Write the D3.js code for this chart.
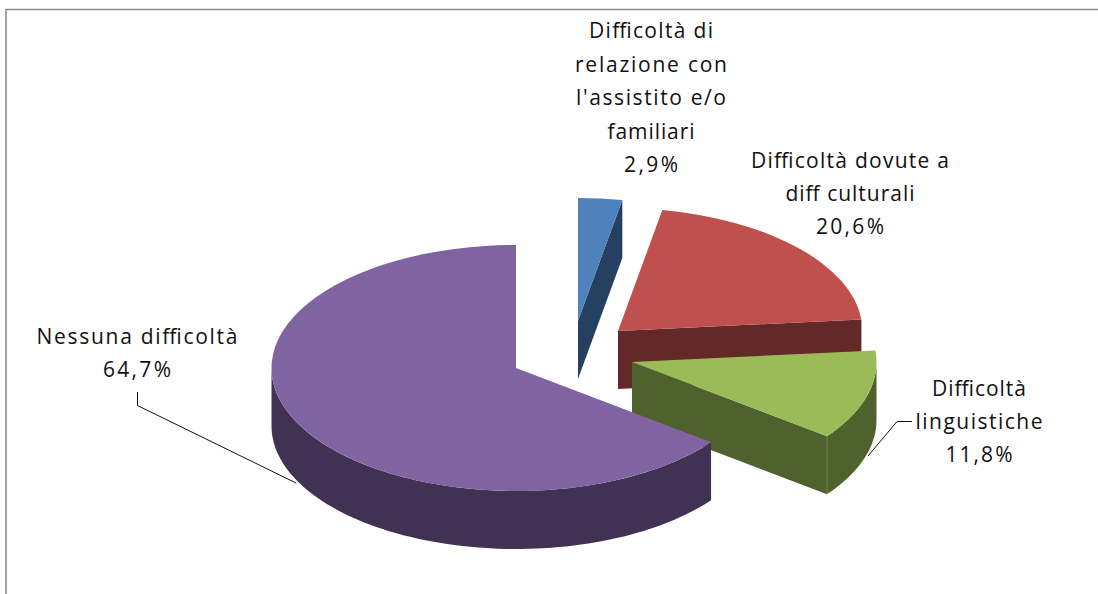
<!DOCTYPE html>
<html>
<head>
<meta charset="utf-8">
<script src="https://cdn.jsdelivr.net/npm/d3@7"></script>
<style>
  html, body { margin: 0; padding: 0; background: #fff; }
  svg { display: block; }
  .label { font-family: "Open Sans", Lato, sans-serif; font-size: 21px; fill: #111; text-anchor: middle; }
</style>
</head>
<body>
<div id="chart"></div>
<script>
// data
const categories = ["Difficoltà di relazione con l'assistito e/o familiari", "Difficoltà dovute a diff culturali", "Difficoltà linguistiche", "Nessuna difficoltà"];
const values = [2.9, 20.6, 11.8, 64.7];
const labelLines = [
  ["Difficoltà di", "relazione con", "l'assistito e/o", "familiari"],
  ["Difficoltà dovute a", "diff culturali"],
  ["Difficoltà", "linguistiche"],
  ["Nessuna difficoltà"]
];

const topColors = ["#4f81bd", "#c0504d", "#9bbb59", "#8064a2"];
const wallColors = ["#254061", "#632928", "#4f612d", "#413253"];

// layout of the pie
const width = 1098, height = 594;
const cx = 516, cy = 368;
const rx = 244.5, ry = 123, depth = 58;
const explode = [[62, -47], [102, -37], [116, -6], [0, 0]];

// layout of the labels: centre of each block, first baseline, line step, width of each line
const labelPos = [
  {x: 651, y: 38, step: 33.6, widths: [124, 152, 150, 87, 54]},
  {x: 850, y: 168, step: 33, widths: [198, 129, 68]},
  {x: 979, y: 396, step: 33, widths: [94, 127, 67]},
  {x: 137, y: 344, step: 33, widths: [201, 68]}
];
const leaders = [
  null,
  null,
  [[912, 421.5], [897, 421.5], [868, 456]],
  [[137.5, 392], [137.5, 405.5], [296, 483]]
];

const svg = d3.select("#chart")
  .append("svg")
    .attr("width", width)
    .attr("height", height);

// chart frame, only top and left are in the picture
svg.append("path")
  .attr("d", d3.line()([[6, height], [6, 9.5], [width, 9.5]]))
  .attr("fill", "none")
  .attr("stroke", "#868686")
  .attr("stroke-width", 1.5);

const pie = d3.pie().sort(null)(values);

const arc = d3.arc().innerRadius(0).outerRadius(rx);
const px = a => rx * Math.sin(a);
const py = a => -ry * Math.cos(a);

// outer wall of a slice, only the front half of the ellipse shows
const wall = d3.area()
  .x(a => px(a))
  .y0(a => py(a))
  .y1(a => py(a) + depth);

function wallAngles(d) {
  const a0 = Math.max(d.startAngle, Math.PI / 2);
  const a1 = Math.min(d.endAngle, Math.PI * 1.5);
  if (a1 <= a0) return null;
  return d3.range(0, 81).map(i => a0 + (a1 - a0) * i / 80);
}

// cut face going down from the centre to the rim
function cutFace(a) {
  return d3.line()([[0, 0], [px(a), py(a)], [px(a), py(a) + depth], [0, depth]]) + "Z";
}

const slices = svg.selectAll("g.slice")
  .data(pie)
  .join("g")
    .attr("class", "slice")
    .attr("transform", (d, i) => `translate(${cx + explode[i][0]},${cy + explode[i][1]})`);

slices.each(function(d, i) {
  const g = d3.select(this);
  // a cut shows only if it turns towards the viewer
  if (Math.sin(d.startAngle) < -1e-6) {
    g.append("path").attr("d", cutFace(d.startAngle)).attr("fill", wallColors[i]);
  }
  if (Math.sin(d.endAngle) > 1e-6) {
    g.append("path").attr("d", cutFace(d.endAngle)).attr("fill", wallColors[i]);
  }
  const angles = wallAngles(d);
  if (angles) {
    g.append("path").attr("d", wall(angles)).attr("fill", wallColors[i]);
  }
  // light seam where the cut meets the outer wall
  if (angles && Math.sin(d.endAngle) > 1e-6) {
    g.append("path")
      .attr("d", d3.line()([[px(d.endAngle), py(d.endAngle)], [px(d.endAngle), py(d.endAngle) + depth]]))
      .attr("stroke", d3.interpolateRgb(wallColors[i], topColors[i])(0.4))
      .attr("stroke-width", 1);
  }
  g.append("path")
    .attr("d", arc(d))
    .attr("transform", `scale(1,${ry / rx})`)
    .attr("fill", topColors[i]);
});

// leader lines
svg.selectAll("path.leader")
  .data(leaders.filter(d => d))
  .join("path")
    .attr("class", "leader")
    .attr("d", d => d3.line()(d))
    .attr("fill", "none")
    .attr("stroke", "#111")
    .attr("stroke-width", 1);

// labels
const fmt = v => d3.format(".1f")(v).replace(".", ",") + "%";

categories.forEach((c, i) => {
  const lines = labelLines[i].concat(fmt(values[i]));
  const pos = labelPos[i];
  svg.selectAll(null)
    .data(lines)
    .join("text")
      .attr("class", "label")
      .attr("x", pos.x)
      .attr("y", (d, j) => pos.y + j * pos.step)
      .attr("textLength", (d, j) => pos.widths[j])
      .attr("lengthAdjust", "spacing")
      .text(d => d);
});
</script>
</body>
</html>
